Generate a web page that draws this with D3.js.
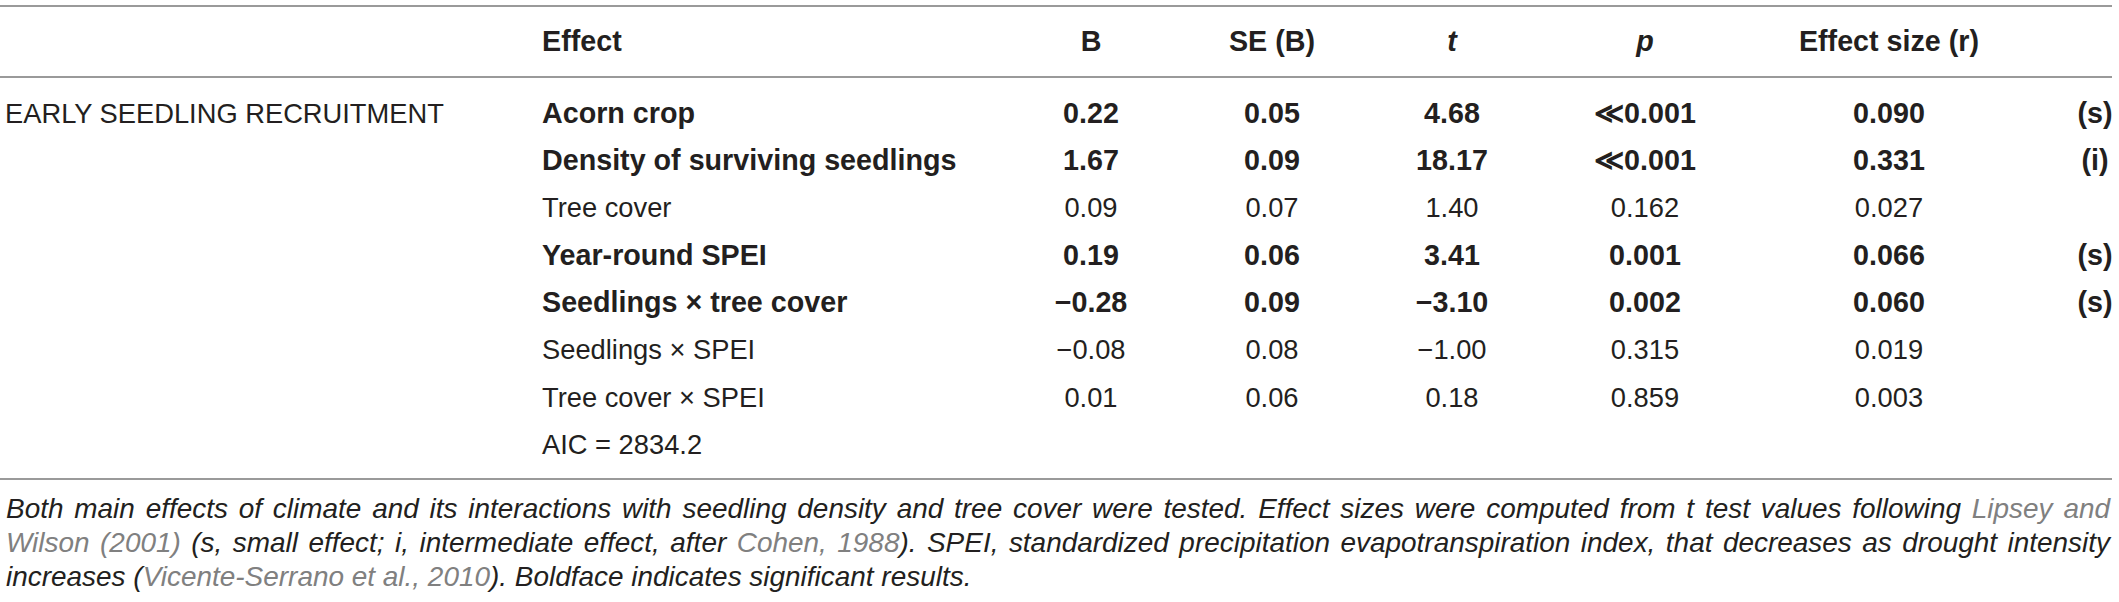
<!DOCTYPE html>
<html>
<head>
<meta charset="utf-8">
<script src="https://d3js.org/d3.v7.min.js"></script>
<style>
  body { margin: 0; background: #fff; }
  svg text { font-family: "Liberation Sans", Arial, Helvetica, sans-serif; fill: #231f20; }
</style>
</head>
<body>
<svg width="2119" height="602"></svg>
<script>
// table contents
var groupLabel = "EARLY SEEDLING RECRUITMENT";
var effects = ["Acorn crop", "Density of surviving seedlings", "Tree cover", "Year-round SPEI",
               "Seedlings \u00d7 tree cover", "Seedlings \u00d7 SPEI", "Tree cover \u00d7 SPEI"];
var bVals  = [0.22, 1.67, 0.09, 0.19, -0.28, -0.08, 0.01];
var seVals = [0.05, 0.09, 0.07, 0.06, 0.09, 0.08, 0.06];
var tVals  = [4.68, 18.17, 1.40, 3.41, -3.10, -1.00, 0.18];
var pVals  = ["\u226a0.001", "\u226a0.001", "0.162", "0.001", "0.002", "0.315", "0.859"];
var rVals  = [0.090, 0.331, 0.027, 0.066, 0.060, 0.019, 0.003];
var sizeNotes = ["(s)", "(i)", "", "(s)", "(s)", "", ""];
var significant = [true, true, false, true, true, false, false];
var aicLabel = "AIC = 2834.2";

var headers = [
  {key: "effect", text: "Effect"},
  {key: "b", text: "B"},
  {key: "se", text: "SE (B)"},
  {key: "t", text: "t", italic: true},
  {key: "p", text: "p", italic: true},
  {key: "r", text: "Effect size (r)"}
];

// caption: each line is a list of [text, isLink]
var captionLines = [
  [["Both main effects of climate and its interactions with seedling density and tree cover were tested. Effect sizes were computed from t test values following ", false], ["Lipsey and", true]],
  [["Wilson (2001)", true], [" (s, small effect; i, intermediate effect, after ", false], ["Cohen, 1988", true], ["). SPEI, standardized precipitation evapotranspiration index, that decreases as drought intensity", false]],
  [["increases (", false], ["Vicente-Serrano et al., 2010", true], ["). Boldface indicates significant results.", false]]
];

var svg = d3.select("svg");
var fmt2 = d3.format(".2f"), fmt3 = d3.format(".3f");

// horizontal layout of the columns
var x = d3.scaleOrdinal()
  .domain(["group", "effect", "b", "se", "t", "p", "r", "note"])
  .range([5, 542, 1091, 1272, 1452, 1645, 1889, 2095]);
// rows: 0..6 effects, 7 = AIC line
var y = d3.scaleLinear().domain([0, 7]).range([122.5, 454]);

var boldSize = 28.7, regSize = 27.3;
var lineColor = "#9a9a9a";

// rules
[6, 77, 479].forEach(function(yy) {
  svg.append("line")
    .attr("x1", 0).attr("x2", 2112)
    .attr("y1", yy).attr("y2", yy)
    .attr("stroke", lineColor).attr("stroke-width", 2);
});

// header
svg.append("g").selectAll("text")
  .data(headers)
  .join("text")
  .attr("x", d => x(d.key))
  .attr("y", 51)
  .attr("text-anchor", d => d.key === "effect" ? "start" : "middle")
  .attr("font-size", boldSize)
  .attr("font-weight", "bold")
  .attr("font-style", d => d.italic ? "italic" : "normal")
  .text(d => d.text);

svg.append("text")
  .attr("x", x("group"))
  .attr("y", y(0))
  .attr("font-size", regSize)
  .text(groupLabel);

var rows = effects.map(function(e, i) {
  return {
    i: i,
    cells: [
      {key: "effect", text: e},
      {key: "b", text: fmt2(bVals[i])},
      {key: "se", text: fmt2(seVals[i])},
      {key: "t", text: fmt2(tVals[i])},
      {key: "p", text: pVals[i]},
      {key: "r", text: fmt3(rVals[i])},
      {key: "note", text: sizeNotes[i]}
    ],
    bold: significant[i]
  };
});

var rowG = svg.append("g").selectAll("g")
  .data(rows)
  .join("g")
  .attr("transform", d => "translate(0," + y(d.i) + ")");

rowG.selectAll("text")
  .data(d => d.cells.map(c => Object.assign({bold: d.bold}, c)))
  .join("text")
  .attr("x", d => x(d.key))
  .attr("text-anchor", d => d.key === "effect" ? "start" : "middle")
  .attr("font-size", d => d.bold ? boldSize : regSize)
  .attr("font-weight", d => d.bold ? "bold" : "normal")
  .text(d => d.text);

svg.append("text")
  .attr("x", x("effect"))
  .attr("y", y(7))
  .attr("font-size", regSize)
  .text(aicLabel);

// caption: size set so the last (unjustified) line ends where it does in the print,
// the first two lines are justified to the table width
var capY = [518, 552, 586];
var capLeft = 6, capRight = 2110, lastLineEnd = 972;
var capNodes = captionLines.map(function(parts, li) {
  var t = svg.append("text")
    .attr("x", capLeft)
    .attr("y", capY[li])
    .attr("font-size", 30)
    .attr("font-style", "italic");
  t.selectAll("tspan")
    .data(parts)
    .join("tspan")
    .style("fill", d => d[1] ? "#808080" : "#231f20")
    .text(d => d[0]);
  return t;
});
var capSize = 30 * (lastLineEnd - capLeft) / capNodes[2].node().getComputedTextLength();
capNodes.forEach(function(t, li) {
  t.attr("font-size", capSize);
  if (li < capNodes.length - 1) {
    var natural = t.node().getComputedTextLength();
    var spaces = (t.text().match(/ /g) || []).length;
    t.attr("word-spacing", (capRight - capLeft - natural) / spaces);
  }
});
</script>
</body>
</html>
